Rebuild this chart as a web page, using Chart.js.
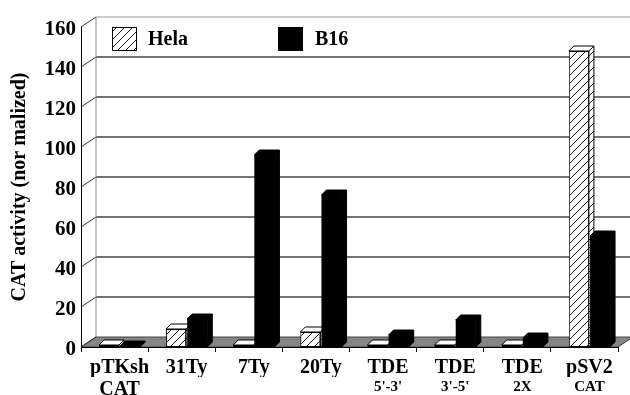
<!DOCTYPE html>
<html>
<head>
<meta charset="utf-8">
<script src="https://cdn.jsdelivr.net/npm/chart.js@4.4.1/dist/chart.umd.min.js"></script>
<style>
  html, body { margin: 0; padding: 0; background: #fff; }
  #wrap { width: 630px; height: 395px; }
</style>
</head>
<body>
<div id="wrap"><canvas id="catChart"></canvas></div>
<script>
// data
const categories = ["pTKsh", "31Ty", "7Ty", "20Ty", "TDE", "TDE", "TDE", "pSV2"];
const subLabels = ["CAT", "", "", "", "5'-3'", "3'-5'", "2X", "CAT"];
const helaValues = [1, 9, 1, 7.5, 1, 1, 1, 148];
const b16Values = [0.5, 14, 96, 76, 6, 13.5, 4.5, 55.5];
const yMin = 0, yMax = 160, yStep = 20;

const SERIF = "'Liberation Serif', 'Times New Roman', serif";
const BX = 15, BY = -10;   // back wall offset
const DX = 5, DY = -5;     // bar depth
const SHIFT = 5;           // bars sit a little into the depth

const canvas = document.getElementById("catChart");
const tile = document.createElement("canvas");
tile.width = 8; tile.height = 8;
const tg = tile.getContext("2d");
tg.fillStyle = "#fff";
tg.fillRect(0, 0, 8, 8);
tg.strokeStyle = "#000";
tg.lineWidth = 0.9;
tg.beginPath();
tg.moveTo(0, 8); tg.lineTo(8, 0);
tg.moveTo(-1, 1); tg.lineTo(1, -1);
tg.moveTo(7, 9); tg.lineTo(9, 7);
tg.stroke();
const hatch = canvas.getContext("2d").createPattern(tile, "repeat");

function drawFaces(ctx, meta, hatched) {
    meta.data.forEach(function (bar) {
        const p = bar.getProps(["x", "y", "base", "width"], true);
        const l = p.x - p.width / 2, r = p.x + p.width / 2;
        ctx.save();
        ctx.lineWidth = 1;
        ctx.strokeStyle = "#000";
        ctx.beginPath();
        ctx.moveTo(r, p.y); ctx.lineTo(r + DX, p.y + DY);
        ctx.lineTo(r + DX, p.base + DY); ctx.lineTo(r, p.base);
        ctx.closePath();
        ctx.fillStyle = hatched ? hatch : "#000";
        ctx.fill(); ctx.stroke();
        ctx.beginPath();
        ctx.moveTo(l, p.y); ctx.lineTo(l + DX, p.y + DY);
        ctx.lineTo(r + DX, p.y + DY); ctx.lineTo(r, p.y);
        ctx.closePath();
        ctx.fillStyle = hatched ? "#fff" : "#000";
        ctx.fill(); ctx.stroke();
        ctx.restore();
    });
}

// back wall, floor and the little 3D brackets
const scene = {
    id: "scene",
    beforeDraw(chart) {
        const ctx = chart.ctx, a = chart.chartArea, ys = chart.scales.y;
        const y0 = ys.getPixelForValue(yMin);
        const yTop = ys.getPixelForValue(yMax);
        ctx.save();
        ctx.fillStyle = "#858585";
        ctx.beginPath();
        ctx.moveTo(a.left, y0); ctx.lineTo(a.right, y0);
        ctx.lineTo(a.right + BX, y0 + BY); ctx.lineTo(a.left + BX, y0 + BY);
        ctx.closePath();
        ctx.fill();
        ctx.strokeStyle = "#444";
        ctx.lineWidth = 1;
        ctx.stroke();
        for (let v = yMin; v <= yMax; v += yStep) {
            const yp = ys.getPixelForValue(v);
            ctx.strokeStyle = "#333";
            ctx.lineWidth = 1;
            ctx.beginPath();
            ctx.moveTo(a.left, yp); ctx.lineTo(a.left + BX, yp + BY);
            ctx.stroke();
            if (v > yMin) {
                ctx.strokeStyle = v === yMax ? "#999" : "#444";
                ctx.lineWidth = v === yMax ? 1 : 1.4;
                ctx.beginPath();
                ctx.moveTo(a.left + BX, yp + BY); ctx.lineTo(chart.width, yp + BY);
                ctx.stroke();
            }
        }
        ctx.strokeStyle = "#888";
        ctx.lineWidth = 1;
        ctx.beginPath();
        ctx.moveTo(a.left + BX, yTop + BY); ctx.lineTo(a.left + BX, y0 + BY);
        ctx.stroke();
        ctx.restore();
    }
};

const bars3d = {
    id: "bars3d",
    beforeDatasetsDraw(chart) {
        chart.ctx.save();
        chart.ctx.translate(SHIFT, 0);
    },
    beforeDatasetDraw(chart, args) {
        // B16 is drawn last so it covers the Hela side face
        if (args.index === 1) return false;
    },
    afterDatasetDraw(chart, args) {
        if (args.index === 0) drawFaces(chart.ctx, args.meta, true);
    },
    afterDatasetsDraw(chart) {
        const meta = chart.getDatasetMeta(1);
        meta.data.forEach(function (el) { el.draw(chart.ctx); });
        drawFaces(chart.ctx, meta, false);
        chart.ctx.restore();
    }
};

const legendBoxes = {
    id: "legendBoxes",
    afterDraw(chart) {
        const ctx = chart.ctx;
        const spots = [{ box: 112, text: 148 }, { box: 278, text: 315 }];
        chart.data.datasets.forEach(function (ds, i) {
            const s = spots[i];
            ctx.save();
            ctx.fillStyle = ds.backgroundColor;
            ctx.fillRect(s.box, 27, 24, 23);
            ctx.strokeStyle = "#000";
            ctx.lineWidth = 1;
            ctx.strokeRect(s.box + 0.5, 27.5, 24, 23);
            ctx.fillStyle = "#000";
            ctx.font = "bold 20px " + SERIF;
            ctx.textBaseline = "middle";
            ctx.fillText(ds.label, s.text, 40);
            ctx.restore();
        });
    }
};

new Chart(canvas, {
    type: "bar",
    data: {
        labels: categories,
        datasets: [
            {
                label: "Hela",
                data: helaValues,
                backgroundColor: hatch,
                borderColor: "#000",
                borderWidth: 1,
                borderSkipped: false,
            },
            {
                label: "B16",
                data: b16Values,
                backgroundColor: "#000",
                borderColor: "#000",
                borderWidth: 0,
            },
        ],
    },
    options: {
        responsive: true,
        maintainAspectRatio: false,
        animation: false,
        categoryPercentage: 0.63,
        barPercentage: 0.95,
        layout: { padding: { top: 27, right: 12, left: 4, bottom: 0 } },
        plugins: { legend: { display: false }, tooltip: { enabled: false } },
        scales: {
            x: {
                offset: true,
                grid: { display: true, drawOnChartArea: false, drawTicks: true, tickLength: 5, color: "#000", offset: true },
                border: { display: true, color: "#000", width: 1 },
                ticks: {
                    color: "#000",
                    font: { family: SERIF, size: 20, weight: "bold" },
                    padding: 4,
                    labelOffset: 5,
                    autoSkip: false,
                    maxRotation: 0,
                },
                afterFit(s) { s.height = 30; },
            },
            x2: {
                type: "category",
                labels: subLabels,
                position: "bottom",
                offset: true,
                grid: { display: false, drawTicks: false },
                border: { display: false },
                ticks: {
                    color: "#000",
                    font: function (c) {
                        return { family: SERIF, size: c.index === 0 ? 20 : 15, weight: "bold" };
                    },
                    padding: 1,
                    labelOffset: 5,
                    autoSkip: false,
                    maxRotation: 0,
                },
                afterFit(s) { s.height = 18; },
            },
            y: {
                min: yMin,
                max: yMax,
                grid: { display: false, drawTicks: false },
                border: { display: true, color: "#000", width: 1 },
                ticks: {
                    stepSize: yStep,
                    color: "#000",
                    font: { family: SERIF, size: 21, weight: "bold" },
                    padding: 5,
                    labelOffset: 3,
                },
                title: {
                    display: true,
                    text: "CAT activity (nor malized)",
                    color: "#000",
                    font: { family: SERIF, size: 20, weight: "bold" },
                    padding: { top: 4, bottom: 0 },
                },
                afterFit(s) { s.width = 77; },
            },
        },
    },
    plugins: [scene, bars3d, legendBoxes],
});
</script>
</body>
</html>
